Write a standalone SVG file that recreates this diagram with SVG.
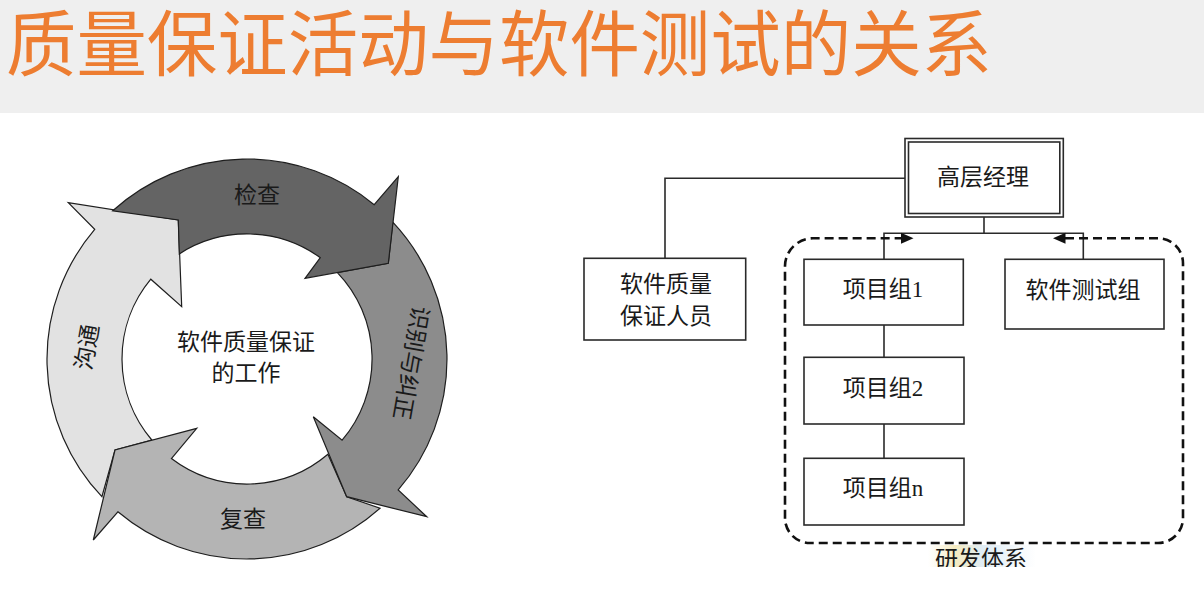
<svg xmlns="http://www.w3.org/2000/svg" width="1204" height="600" viewBox="0 0 1204 600">
  <style>
    .title { font-family: "Liberation Sans", "Noto Sans CJK SC", sans-serif; font-size: 72px; fill: #ed7d31; }
    .ring { stroke: #1e1e1e; stroke-width: 1.2; stroke-linejoin: miter; }
    .lbl { font-family: "Noto Sans CJK SC", "Noto Sans", sans-serif; font-size: 23px; fill: #1a1a1a; text-anchor: middle; }
    .box { fill: #ffffff; stroke: #2a2a2a; stroke-width: 1.6; }
    .org { font-family: "Liberation Serif", "Noto Sans CJK SC", serif; font-size: 23px; fill: #1a1a1a; text-anchor: middle; }
    .wire { fill: none; stroke: #2a2a2a; stroke-width: 1.6; }
    .dash { fill: none; stroke: #111111; stroke-width: 2.6; stroke-dasharray: 9 5; }
  </style>
  <defs>
    <clipPath id="bottomClip">
      <rect x="0" y="0" width="1204" height="567"/>
    </clipPath>
    <linearGradient id="haze" x1="0" y1="0" x2="1" y2="0">
      <stop offset="0" stop-color="#f5ecc4" stop-opacity="0.0"/>
      <stop offset="0.25" stop-color="#f3e6b0" stop-opacity="0.8"/>
      <stop offset="0.5" stop-color="#d8e8f2" stop-opacity="0.8"/>
      <stop offset="1" stop-color="#d8e8f2" stop-opacity="0.0"/>
    </linearGradient>
  </defs>

  <!-- background and title band -->
  <rect x="0" y="0" width="1204" height="600" fill="#ffffff"/>
  <rect x="0" y="0" width="1204" height="113" fill="#efefef"/>
  <text class="title" x="6" y="70" textLength="986" lengthAdjust="spacingAndGlyphs">质量保证活动与软件测试的关系</text>

  <!-- cycle of four arrows around the centre -->
  <g id="cycle">
    <g id="arrow-communicate">
      <path class="ring" fill="#e2e2e2" d="M 101.9,496.7 A 200 200 0 0 1 94.7,229.4 L 68.3,202.7 L 178.3,220 L 181.7,306.7 L 150.8,279.2 A 125 125 0 0 0 151.8,440.0 L 115,450 Z"/>
      <text class="lbl" font-size="24" transform="translate(87,347) rotate(-80)" y="8">沟通</text>
    </g>
    <g id="arrow-review">
      <path class="ring" fill="#b4b4b4" d="M 380.0,508.3 A 200 200 0 0 1 117.9,511.8 L 93.3,540 L 115,450 L 196.7,428.3 L 171.4,458.6 A 125 125 0 0 0 327.9,454.3 L 346.7,496.7 Z"/>
      <text class="lbl" x="243" y="527">复查</text>
    </g>
    <g id="arrow-identify">
      <path class="ring" fill="#8c8c8c" d="M 392.8,222.1 A 200 200 0 0 1 398.2,489.9 L 426.7,516.7 L 346.7,496.7 L 313.3,416.7 L 342.1,440.2 A 125 125 0 0 0 337.4,272.6 L 388.3,263.3 Z"/>
      <text class="lbl" font-size="24" transform="translate(411,363) rotate(100)" y="8">识别与纠正</text>
    </g>
    <g id="arrow-inspect">
      <path class="ring" fill="#646464" d="M 112.7,210.8 A 200 200 0 0 1 374.2,204.7 L 398.3,176.7 L 388.3,263.3 L 305,278.3 L 320.3,257.7 A 125 125 0 0 0 179.3,253.9 L 178.3,220 Z"/>
      <text class="lbl" x="257" y="203">检查</text>
    </g>
    <g id="centre-label">
      <text class="lbl" font-size="24" x="246" y="350">软件质量保证</text>
      <text class="lbl" font-size="24" x="246" y="381">的工作</text>
    </g>
  </g>

  <!-- organisation chart connectors -->
  <g id="connectors">
    <polyline class="wire" points="905,178.3 665,178.3 665,258.3"/>
    <line class="wire" x1="984" y1="217" x2="984" y2="233.3"/>
    <polyline class="wire" points="884,259.3 884,233.3 1083.3,233.3 1083.3,259.3"/>
    <line class="wire" x1="884" y1="325" x2="884" y2="357.3"/>
    <line class="wire" x1="884" y1="424" x2="884" y2="458.3"/>
    <!-- dashed boundary of the development group -->
    <path class="dash" d="M 1065,238.3 H 1158 A 25 25 0 0 1 1183,263.3 V 518 A 25 25 0 0 1 1158,543 H 810 A 25 25 0 0 1 785,518 V 266 A 28 28 0 0 1 813,238.3 H 902"/>
    <polygon points="913.5,238.3 901,232.8 901,243.8" fill="#111111"/>
    <polygon points="1053,238.3 1065.5,232.8 1065.5,243.8" fill="#111111"/>
  </g>

  <g id="node-manager">
    <rect class="box" x="905" y="138.5" width="158.3" height="78.5"/>
    <rect class="box" x="908.5" y="142" width="151.3" height="71.5" fill="none"/>
    <text class="org" x="983" y="185">高层经理</text>
  </g>

  <g id="node-qa">
    <rect class="box" x="584" y="258.3" width="161.7" height="81.7"/>
    <text class="org" x="666" y="292">软件质量</text>
    <text class="org" x="666" y="323.5">保证人员</text>
  </g>

  <g id="node-team1">
    <rect class="box" x="804" y="259.3" width="159.3" height="65.7"/>
    <text class="org" x="883" y="297">项目组1</text>
  </g>

  <g id="node-test">
    <rect class="box" x="1005" y="259.3" width="159" height="69.7"/>
    <text class="org" x="1083" y="298">软件测试组</text>
  </g>

  <g id="node-team2">
    <rect class="box" x="804" y="357.3" width="160" height="66.7"/>
    <text class="org" x="883" y="396">项目组2</text>
  </g>

  <g id="node-teamn">
    <rect class="box" x="804" y="458.3" width="160" height="66.7"/>
    <text class="org" x="883" y="496">项目组n</text>
  </g>

  <g id="node-rd" clip-path="url(#bottomClip)">
    <rect x="928" y="545" width="108" height="22" fill="url(#haze)"/>
    <text class="org" x="981" y="567" fill="#333333">研发体系</text>
  </g>
</svg>
